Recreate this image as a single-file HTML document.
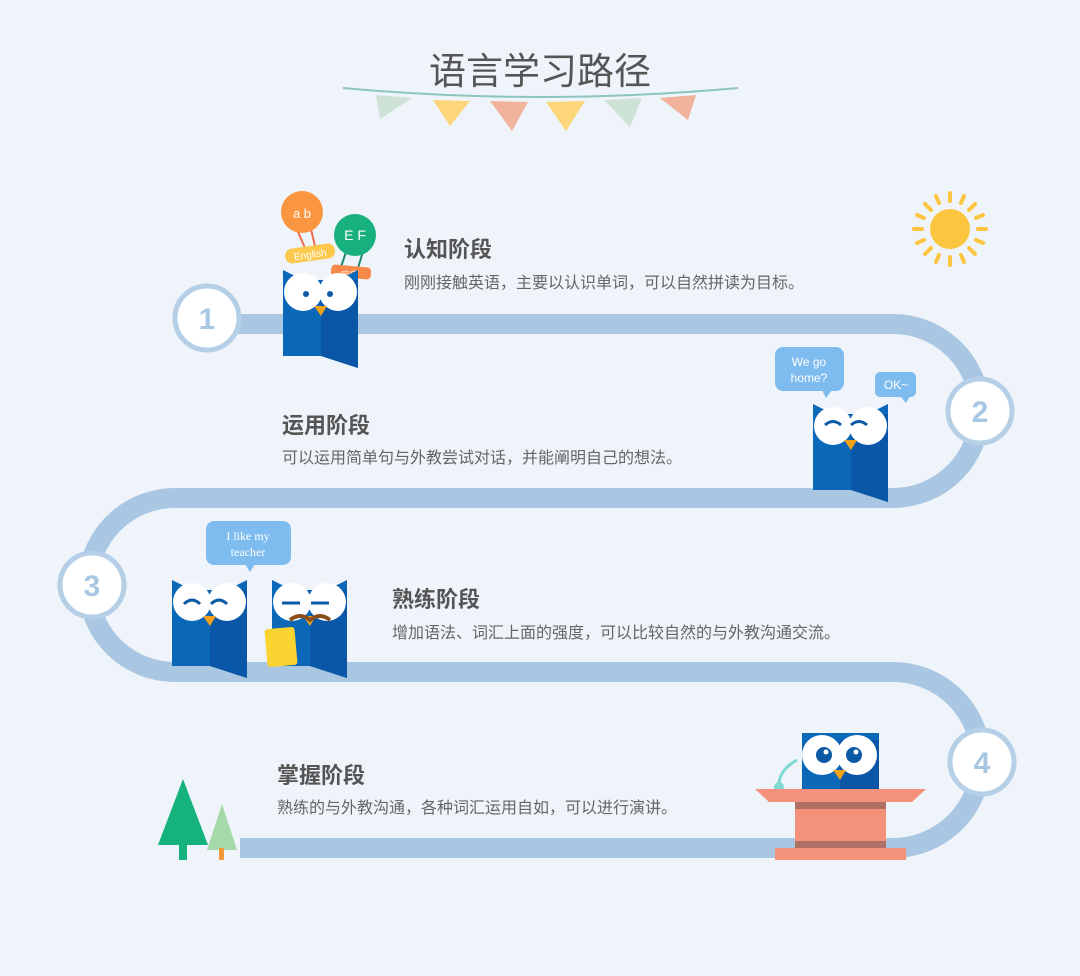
<!DOCTYPE html>
<html><head><meta charset="utf-8"><style>
body{margin:0;width:1080px;height:976px;background:#eef4f9;overflow:hidden;font-family:"Liberation Sans","Noto Sans CJK SC",sans-serif}
.t{position:absolute;font-size:22px;font-weight:bold;color:#555}
.d{position:absolute;font-size:16px;color:#666}
</style></head><body>
<svg width="1080" height="976" style="position:absolute;left:0;top:0">
<text x="540" y="84" text-anchor="middle" font-size="37" fill="#555" font-family="Noto Sans CJK SC,sans-serif">语言学习路径</text>
<path d="M343 88 Q540 106 738 88" stroke="#8cc5bd" stroke-width="2" fill="none"/>
<polygon points="376,95 412,98 380,119" fill="#cfe2d8"/>
<polygon points="433,100 470,101 450,126" fill="#fdd67a"/>
<polygon points="490,101 528,102 512,131" fill="#f1b39b"/>
<polygon points="546,102 585,101 566,131" fill="#fdd67a"/>
<polygon points="604,100 642,98 630,127" fill="#cfe2d8"/>
<polygon points="660,98 696,95 688,120" fill="#f1b39b"/>
<g fill="none" stroke="#a9c6e2" stroke-width="20">
<path d="M205 324 H893 A87 87 0 0 1 893 498 H175 A87 87 0 0 0 175 672 H893 A88 88 0 0 1 893 848 H240"/>
</g>
<g font-size="30" font-weight="bold" fill="#a9c6e2" text-anchor="middle">
<circle cx="207" cy="318" r="32" fill="#fff" stroke="#b5cfe7" stroke-width="5"/><text x="207" y="329">1</text>
<circle cx="980" cy="411" r="32" fill="#fff" stroke="#b5cfe7" stroke-width="5"/><text x="980" y="422">2</text>
<circle cx="92" cy="585" r="32" fill="#fff" stroke="#b5cfe7" stroke-width="5"/><text x="92" y="596">3</text>
<circle cx="982" cy="762" r="32" fill="#fff" stroke="#b5cfe7" stroke-width="5"/><text x="982" y="773">4</text>
</g>
<!-- sun -->
<circle cx="950" cy="229" r="20" fill="#fcc540"/>
<g stroke="#fcc540" stroke-width="4" stroke-linecap="round">
<line x1="950" y1="193" x2="950" y2="201"/><line x1="950" y1="257" x2="950" y2="265"/>
<line x1="914" y1="229" x2="922" y2="229"/><line x1="978" y1="229" x2="986" y2="229"/>
<line x1="925" y1="204" x2="931" y2="210"/><line x1="969" y1="248" x2="975" y2="254"/>
<line x1="975" y1="204" x2="969" y2="210"/><line x1="931" y1="248" x2="925" y2="254"/>
<line x1="936" y1="196" x2="939" y2="203"/><line x1="961" y1="255" x2="964" y2="262"/>
<line x1="964" y1="196" x2="961" y2="203"/><line x1="939" y1="255" x2="936" y2="262"/>
<line x1="917" y1="215" x2="924" y2="218"/><line x1="976" y1="240" x2="983" y2="243"/>
<line x1="983" y1="215" x2="976" y2="218"/><line x1="924" y1="240" x2="917" y2="243"/>
</g>
<!-- owl 1 balloons -->
<line x1="295" y1="225" x2="305" y2="248" stroke="#f06b50" stroke-width="2"/>
<line x1="310" y1="225" x2="315" y2="246" stroke="#f06b50" stroke-width="2"/>
<line x1="350" y1="240" x2="340" y2="270" stroke="#1a8a70" stroke-width="2"/>
<line x1="365" y1="245" x2="358" y2="268" stroke="#1a8a70" stroke-width="2"/>
<circle cx="302" cy="212" r="21" fill="#fa9640"/>
<text x="302" y="218" fill="#fff" font-size="13" text-anchor="middle">a b</text>
<circle cx="355" cy="235" r="21" fill="#18b07f"/>
<text x="355" y="240" fill="#fff" font-size="14" text-anchor="middle">E F</text>
<rect x="285" y="246" width="50" height="15" rx="7" fill="#fcc94e" transform="rotate(-8 310 253)"/>
<text x="310" y="258" fill="#fff" font-size="10" text-anchor="middle" transform="rotate(-8 310 253)">English</text>
<rect x="331" y="266" width="40" height="12" rx="4" fill="#f78a4a" transform="rotate(5 351 272)"/>
<text x="350" y="275" fill="#fff" font-size="7" text-anchor="middle">study</text>
<!-- owl generic via use -->
<defs>
<g id="owl">
<path d="M0 0 L20 10 L55 10 L75 0 V80 L75 98 L38 86 L0 86 Z" fill="#0b68b8"/>
<path d="M38 10 H75 V98 L38 86 Z" fill="#0957a6"/>
<circle cx="20" cy="22" r="19" fill="#fff"/><circle cx="55" cy="22" r="19" fill="#fff"/>
<polygon points="31,36 44,36 38,46" fill="#f2a21a"/>
</g>
</defs>
<use href="#owl" x="283" y="270"/>
<circle cx="306" cy="294" r="3" fill="#0b5aa6"/><circle cx="330" cy="294" r="3" fill="#0b5aa6"/>
<!-- owl 2 -->
<use href="#owl" x="813" y="404"/>
<path d="M825 425 q8-7 16 0 M851 425 q8-7 16 0" stroke="#0b5aa6" stroke-width="3" fill="none"/>
<rect x="775" y="347" width="69" height="44" rx="8" fill="#7ebcf0"/><polygon points="822,390 832,390 826,398" fill="#7ebcf0"/>
<text x="809" y="366" fill="#fff" font-size="12" text-anchor="middle">We go</text><text x="809" y="382" fill="#fff" font-size="12" text-anchor="middle">home?</text>
<rect x="875" y="372" width="41" height="25" rx="5" fill="#7ebcf0"/><polygon points="900,396 910,396 906,403" fill="#7ebcf0"/>
<text x="896" y="389" fill="#fff" font-size="12" text-anchor="middle">OK~</text>
<!-- owls 3 -->
<use href="#owl" x="172" y="580"/>
<path d="M184 604 q8-8 16 0 M211 604 q8-8 16 0" stroke="#0b5aa6" stroke-width="3" fill="none"/>
<use href="#owl" x="272" y="580"/>
<path d="M282 603 h18 M311 603 h18" stroke="#0b5aa6" stroke-width="3"/>
<path d="M290 620 q10-8 20 0 q10-8 20 0" stroke="#8a4e1a" stroke-width="4" fill="none"/>
<rect x="266" y="628" width="30" height="38" rx="3" fill="#fcd432" transform="rotate(-5 281 647)"/>
<rect x="206" y="521" width="85" height="44" rx="8" fill="#7ebcf0"/><polygon points="245,564 255,564 250,572" fill="#7ebcf0"/>
<text x="248" y="540" fill="#fff" font-size="12" text-anchor="middle" font-family="Liberation Serif,serif">I like my</text>
<text x="248" y="556" fill="#fff" font-size="12" text-anchor="middle" font-family="Liberation Serif,serif">teacher</text>
<!-- podium owl -->
<rect x="802" y="733" width="77" height="58" fill="#0b68b8"/><rect x="840" y="740" width="39" height="51" fill="#0957a6"/>
<circle cx="822" cy="755" r="20" fill="#fff"/><circle cx="857" cy="755" r="20" fill="#fff"/>
<circle cx="824" cy="755" r="8" fill="#0b5aa6"/><circle cx="854" cy="755" r="8" fill="#0b5aa6"/>
<circle cx="826" cy="752" r="2.5" fill="#fff"/><circle cx="856" cy="752" r="2.5" fill="#fff"/>
<polygon points="833,770 846,770 840,780" fill="#f2a21a"/>
<path d="M779 785 q0-15 18-25" stroke="#7fd9d3" stroke-width="3" fill="none"/><circle cx="779" cy="787" r="5" fill="#7fd9d3"/>
<polygon points="755,789 926,789 912,802 769,802" fill="#f4917a"/>
<rect x="795" y="802" width="91" height="48" fill="#f4917a"/>
<rect x="795" y="802" width="91" height="7" fill="#b07066"/><rect x="795" y="841" width="91" height="7" fill="#b07066"/>
<rect x="775" y="848" width="131" height="12" fill="#f4917a"/>
<!-- trees -->
<polygon points="183,779 208,845 158,845" fill="#15b27e"/>
<rect x="179" y="843" width="8" height="17" fill="#15b27e"/>
<polygon points="222,804 237,850 207,850" fill="#a6d9aa"/>
<rect x="219" y="848" width="5" height="12" fill="#f39a3c"/>
</svg>
<div class="t" style="left:404px;top:232px">认知阶段</div>
<div class="d" style="left:404px;top:269px">刚刚接触英语，主要以认识单词，可以自然拼读为目标。</div>
<div class="t" style="left:282px;top:408px">运用阶段</div>
<div class="d" style="left:282px;top:444px">可以运用简单句与外教尝试对话，并能阐明自己的想法。</div>
<div class="t" style="left:392px;top:582px">熟练阶段</div>
<div class="d" style="left:392px;top:619px">增加语法、词汇上面的强度，可以比较自然的与外教沟通交流。</div>
<div class="t" style="left:277px;top:758px">掌握阶段</div>
<div class="d" style="left:277px;top:794px">熟练的与外教沟通，各种词汇运用自如，可以进行演讲。</div>
</body></html>
